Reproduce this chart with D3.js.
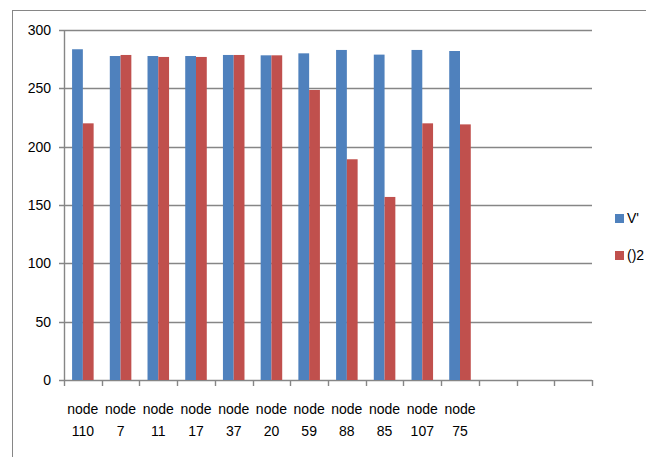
<!DOCTYPE html>
<html>
<head>
<meta charset="utf-8">
<script src="https://cdn.jsdelivr.net/npm/d3@7"></script>
<style>
  body { margin: 0; background: #fff; }
  svg text { font-family: "Liberation Sans", Arial, sans-serif; fill: #000; }
</style>
</head>
<body>
<svg id="chart" width="646" height="457"></svg>
<script>
// chart data
const categories = ["node 110", "node 7", "node 11", "node 17", "node 37", "node 20",
    "node 59", "node 88", "node 85", "node 107", "node 75", "", " ", "  "];
const seriesNames = ["V'", "()2"];
const seriesV = [283.5, 277.7, 277.7, 277.7, 278.6, 278.3, 280.0, 282.9, 278.9, 282.9, 282.0];
const series2 = [220.0, 278.6, 276.9, 276.9, 278.6, 278.3, 248.6, 189.2, 156.9, 220.0, 219.1];
const yTicks = [0, 50, 100, 150, 200, 250, 300];

const colours = ["#4F81BD", "#C0504D"];
const gridColour = "#868686";

const renderChart = (selector) => {
    const svg = d3.select(selector);
    const left = 64, right = 592, top = 30, bottom = 380;

    // outer chart border
    svg.append("rect")
        .attr("x", 12.5).attr("y", 10.5)
        .attr("width", 640).attr("height", 470)
        .attr("fill", "none")
        .attr("stroke", gridColour)
        .attr("stroke-width", 1);

    const x = d3.scaleBand().domain(categories).range([left, right]).paddingInner(0).paddingOuter(0);
    const y = d3.scaleLinear().domain([0, 300]).range([bottom, top]);

    // gridlines + y labels
    svg.selectAll(".grid")
        .data(yTicks)
        .enter().append("line")
        .attr("x1", left - 5).attr("x2", right)
        .attr("y1", d => Math.round(y(d)) + 0.5).attr("y2", d => Math.round(y(d)) + 0.5)
        .attr("stroke", gridColour)
        .attr("stroke-width", 1.4);

    svg.selectAll(".ylab")
        .data(yTicks)
        .enter().append("text")
        .attr("x", 51)
        .attr("y", d => y(d))
        .attr("dy", "0.35em")
        .attr("text-anchor", "end")
        .style("font-size", "14px")
        .text(d => d);

    // y axis line
    svg.append("line")
        .attr("x1", left + 0.5).attr("x2", left + 0.5)
        .attr("y1", top).attr("y2", bottom)
        .attr("stroke", gridColour)
        .attr("stroke-width", 1.4);

    // x ticks
    const tickXs = categories.map(c => x(c)).concat([right]);
    svg.selectAll(".xtick")
        .data(tickXs)
        .enter().append("line")
        .attr("x1", d => Math.round(d) + 0.5).attr("x2", d => Math.round(d) + 0.5)
        .attr("y1", bottom).attr("y2", bottom + 6)
        .attr("stroke", gridColour)
        .attr("stroke-width", 1.4);

    // bars
    const inner = d3.scaleBand().domain([0, 1]).range([0, x.bandwidth()]).paddingOuter(0.75).paddingInner(0);
    [seriesV, series2].forEach((vals, si) => {
        svg.selectAll(".bar" + si)
            .data(vals)
            .enter().append("rect")
            .attr("x", (d, i) => x(categories[i]) + inner(si))
            .attr("width", inner.bandwidth())
            .attr("y", d => y(d))
            .attr("height", d => bottom - y(d))
            .attr("fill", colours[si]);
    });

    // x labels
    const labels = svg.selectAll(".xlab")
        .data(categories.filter(c => c.trim() !== ""))
        .enter().append("text")
        .attr("text-anchor", "middle")
        .style("font-size", "14px");
    labels.append("tspan")
        .attr("x", d => x(d) + x.bandwidth() / 2)
        .attr("y", 414)
        .text(d => d.split(" ")[0]);
    labels.append("tspan")
        .attr("x", d => x(d) + x.bandwidth() / 2)
        .attr("y", 436)
        .text(d => d.split(" ")[1]);

    // legend
    const legend = svg.selectAll(".legend")
        .data(seriesNames)
        .enter().append("g")
        .attr("transform", (d, i) => `translate(615, ${214 + i * 37})`);
    legend.append("rect")
        .attr("width", 9).attr("height", 9)
        .attr("fill", (d, i) => colours[i]);
    legend.append("text")
        .attr("x", 12).attr("y", 4.5)
        .attr("dy", "0.35em")
        .style("font-size", "14px")
        .text(d => d);
};

renderChart("#chart");
</script>
</body>
</html>
